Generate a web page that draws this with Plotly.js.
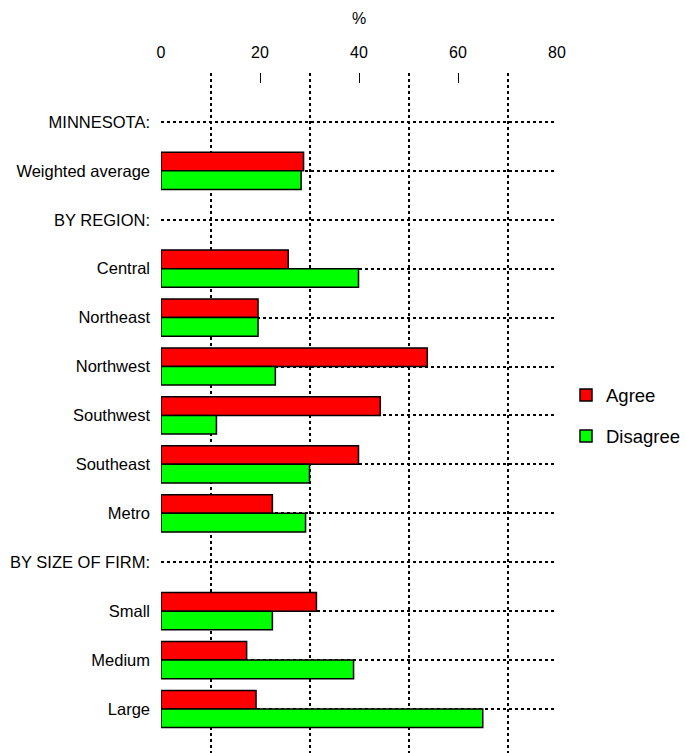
<!DOCTYPE html>
<html>
<head>
<meta charset="utf-8">
<script src="https://cdn.plot.ly/plotly-3.0.1.min.js"></script>
<style>html,body{margin:0;padding:0;background:#fff;}#chart{width:686px;height:753px;}</style>
</head>
<body>
<div id="chart"></div>
<script>
var categories = ["MINNESOTA:", "Weighted average", "BY REGION:", "Central", "Northeast", "Northwest", "Southwest", "Southeast", "Metro", "BY SIZE OF FIRM:", "Small", "Medium", "Large"];
var agree    = [null, 28.8, null, 25.7, 19.6, 53.8, 44.3, 39.9, 22.5, null, 31.4, 17.3, 19.2];
var disagree = [null, 28.3, null, 39.9, 19.6, 23.1, 11.2, 30.0, 29.2, null, 22.5, 38.9, 65.0];
var xTicks = [0, 20, 40, 60, 80];

var pos = categories.map(function(_, i){ return i; });

var traces = [
  {type:'bar', orientation:'h', name:'Agree', x:agree, y:pos, legendgroup:'a',
   marker:{color:'#FF0000', line:{color:'#000', width:1.5}}, hoverinfo:'x'},
  {type:'bar', orientation:'h', name:'Disagree', x:disagree, y:pos, legendgroup:'d',
   marker:{color:'#00FF00', line:{color:'#000', width:1.5}}, hoverinfo:'x'}
];

var layout = {
  width:686, height:753,
  margin:{l:161, r:129, t:73, b:0, pad:0},
  paper_bgcolor:'#fff', plot_bgcolor:'#fff',
  font:{family:'Liberation Sans, Arial, sans-serif', size:16.5, color:'#000'},
  barmode:'group', bargap:0.24, bargroupgap:0,
  showlegend:true,
  legend:{x:566/686, xref:'container', xanchor:'left', y:1-416/753, yref:'container', yanchor:'middle',
          traceorder:'grouped', tracegroupgap:14, font:{size:18.5}, bgcolor:'rgba(0,0,0,0)'},
  title:{text:'%', font:{size:16}, x:0.5, xref:'paper', xanchor:'center', y:1-18/753, yref:'container', yanchor:'middle'},
  xaxis:{side:'top', range:[0,80], tickvals:xTicks, ticktext:xTicks.map(String),
         ticks:'inside', ticklen:10, tickcolor:'#000', tickwidth:1, tickfont:{size:16},
         showgrid:false, zeroline:false, showline:false, ticklabelstandoff:11,
         minor:{dtick:20, tick0:10, showgrid:true, gridcolor:'#000', gridwidth:2, griddash:'dot', ticks:''}},
  yaxis:{range:[12.9, -1], tickvals:pos, ticktext:categories, ticks:'', showgrid:true,
         gridcolor:'#000', gridwidth:2, griddash:'dot', zeroline:false, showline:false,
         ticklabelstandoff:10}
};

Plotly.newPlot('chart', traces, layout, {displayModeBar:false, staticPlot:true});
</script>
</body>
</html>
